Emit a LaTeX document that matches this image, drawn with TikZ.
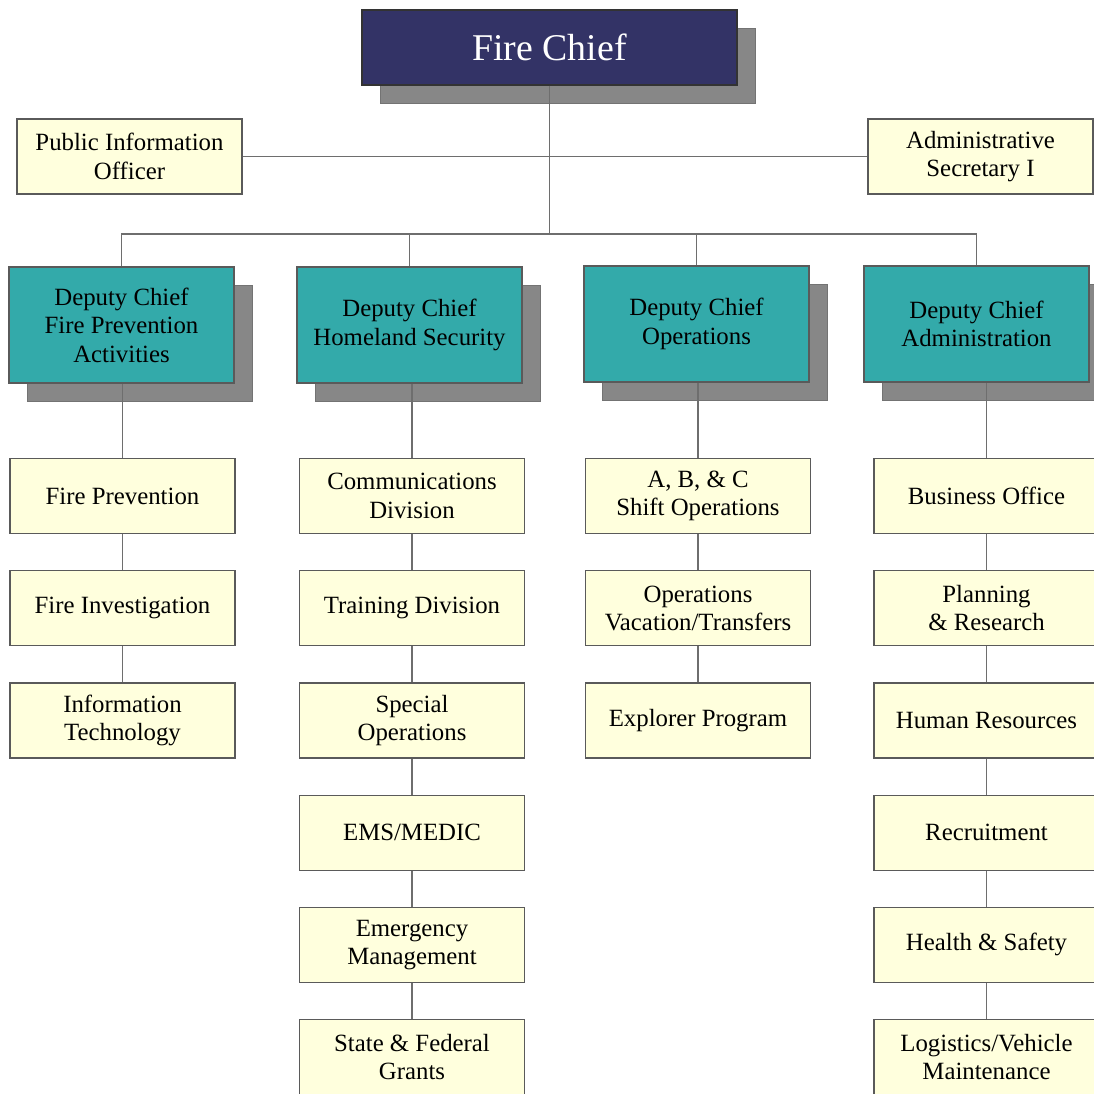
\documentclass[tikz,border=0pt]{standalone}
\usepackage{fontspec}
\setmainfont{Liberation Serif}
\usetikzlibrary{positioning, shadows}
\definecolor{chiefblue}{HTML}{333366}
\definecolor{deputyteal}{HTML}{33AAAA}
\definecolor{unityellow}{HTML}{FFFFDD}
\definecolor{shadowgray}{HTML}{878787}
\definecolor{edgegray}{HTML}{5A5A5A}
\definecolor{linkgray}{HTML}{6E6E6E}
\tikzset{
  boxshadow/.style={
    general shadow={fill=shadowgray, draw=shadowgray!85!black, line width=0.4pt,
      shadow xshift=9pt, shadow yshift=-9pt}
  },
  chief/.style={
    draw=black!80,
    rectangle,
    line width=0.6pt,
    minimum width=187.5pt,
    minimum height=37.5pt,
    inner sep=0pt,
    align=center,
    fill=chiefblue,
    text=white,
    font=\fontsize{18.9}{22}\selectfont,
    boxshadow
  },
  deputy/.style={
    draw=edgegray,
    rectangle,
    line width=0.6pt,
    minimum width=112.5pt,
    minimum height=58pt,
    inner sep=0pt,
    align=center,
    fill=deputyteal,
    font=\fontsize{12.4}{14.2}\selectfont,
    boxshadow
  },
  unit/.style={
    draw=edgegray,
    rectangle,
    line width=0.6pt,
    minimum width=112.5pt,
    minimum height=37.5pt,
    inner sep=0pt,
    align=center,
    fill=unityellow,
    font=\fontsize{12.4}{14.2}\selectfont
  },
  link/.style={
    draw=linkgray,
    line width=0.7pt
  }
}
\begin{document}
\begin{tikzpicture}[x=0.5pt, y=-0.5pt, node distance=18pt]
        \useasboundingbox (0,0) rectangle (1094,1094);
        \clip (0,0) rectangle (1094,1094);

        % top level
        \node[chief] (chief) at (549.5,47.5) {Fire Chief};
        \node[unit] (pio) at (129.5,156.5) {Public Information\\Officer};
        \node[unit] (admsec) at (980.5,156.5) {Administrative\\Secretary I};
        \coordinate (bus) at (549.5,234);

        % deputy chiefs
        \node[deputy] (dcfp) at (121.5,325) {Deputy Chief\\Fire Prevention\\Activities};
        \node[deputy] (dchs) at (409.5,325) {Deputy Chief\\Homeland Security};
        \node[deputy] (dcops) at (696.5,324) {Deputy Chief\\Operations};
        \node[deputy] (dcadm) at (976.5,324) {Deputy Chief\\Administration};

        % fire prevention column
        \node[unit] (fprev) at (122.5,496) {Fire Prevention};
        \node[unit, below=of fprev] (finv) {Fire Investigation};
        \node[unit, below=of finv] (infotech) {Information\\Technology};

        % homeland security column
        \node[unit] (comm) at (412,496) {Communications\\Division};
        \node[unit, below=of comm] (train) {Training Division};
        \node[unit, below=of train] (specops) {Special\\Operations};
        \node[unit, below=of specops] (ems) {EMS/MEDIC};
        \node[unit, below=of ems] (emgmt) {Emergency\\Management};
        \node[unit, below=of emgmt] (grants) {State \& Federal\\Grants};

        % operations column
        \node[unit] (shift) at (698,496) {A, B, \& C\\Shift Operations};
        \node[unit, below=of shift] (vacat) {Operations\\Vacation/Transfers};
        \node[unit, below=of vacat] (explorer) {Explorer Program};

        % administration column
        \node[unit] (bizoff) at (986.5,496) {Business Office};
        \node[unit, below=of bizoff] (plan) {Planning\\\& Research};
        \node[unit, below=of plan] (hr) {Human Resources};
        \node[unit, below=of hr] (recruit) {Recruitment};
        \node[unit, below=of recruit] (health) {Health \& Safety};
        \node[unit, below=of health] (logist) {Logistics/Vehicle\\Maintenance};

        % connectors
        \draw[link] (chief.south) -- (bus);
        \draw[link] (pio.east) -- (admsec.west);
        \draw[link] (bus) -| (dcfp.north);
        \draw[link] (bus) -| (dchs.north);
        \draw[link] (bus) -| (dcops.north);
        \draw[link] (bus) -| (dcadm.north);

        \draw[link] (fprev.north) -- (fprev.north |- dcfp.south);
        \draw[link] (comm.north) -- (comm.north |- dchs.south);
        \draw[link] (shift.north) -- (shift.north |- dcops.south);
        \draw[link] (bizoff.north) -- (bizoff.north |- dcadm.south);

        \draw[link] (fprev) -- (finv);
        \draw[link] (finv) -- (infotech);
        \draw[link] (comm) -- (train);
        \draw[link] (train) -- (specops);
        \draw[link] (specops) -- (ems);
        \draw[link] (ems) -- (emgmt);
        \draw[link] (emgmt) -- (grants);
        \draw[link] (shift) -- (vacat);
        \draw[link] (vacat) -- (explorer);
        \draw[link] (bizoff) -- (plan);
        \draw[link] (plan) -- (hr);
        \draw[link] (hr) -- (recruit);
        \draw[link] (recruit) -- (health);
        \draw[link] (health) -- (logist);
      \end{tikzpicture}
\end{document}
